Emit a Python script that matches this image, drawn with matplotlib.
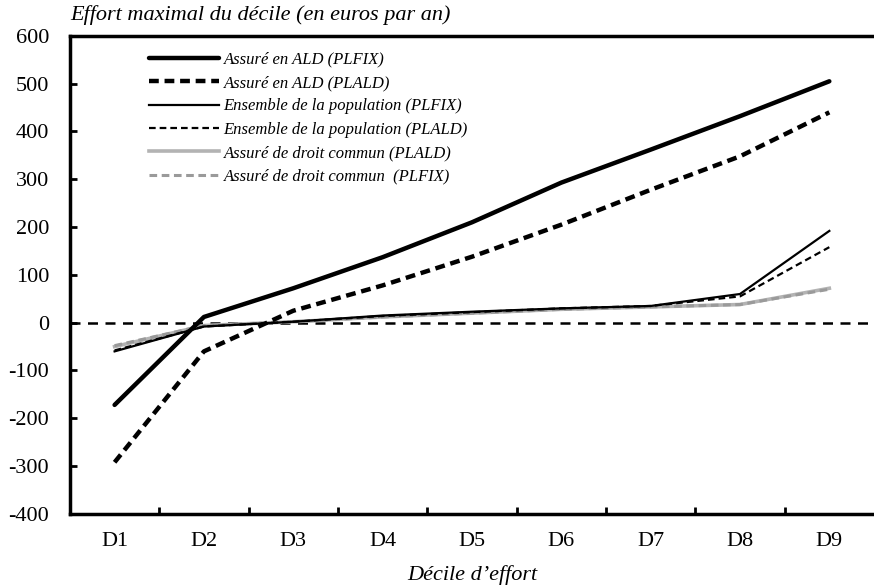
import matplotlib
matplotlib.use("Agg")
import matplotlib.pyplot as plt

deciles = ["D1", "D2", "D3", "D4", "D5", "D6", "D7", "D8", "D9"]
ald_plfix = [-172, 12, 72, 137, 210, 293, 362, 432, 505]
ald_plald = [-292, -60, 25, 78, 138, 205, 278, 348, 440]
ens_plfix = [-60, -8, 2, 15, 23, 30, 35, 60, 192]
ens_plald = [-58, -8, 2, 14, 22, 30, 35, 55, 158]
dc_plald = [-50, -6, 2, 12, 20, 28, 33, 38, 72]
dc_plfix = [-48, -6, 2, 12, 20, 28, 33, 38, 70]

plt.rcParams['font.family'] = ['Liberation Serif', 'DejaVu Serif']
plt.rcParams['axes.unicode_minus'] = False

fig = plt.figure(figsize=(8.74, 5.88), dpi=100)
ax = fig.add_axes([0.080, 0.126, 0.92, 0.813])

x = list(range(len(deciles)))
ax.axhline(0, color='black', lw=1.8, ls=(0, (4, 3)), zorder=1)
ax.plot(x, ald_plfix, color='black', lw=3.2, solid_capstyle='round', label='Assuré en ALD (PLFIX)', zorder=5)
ax.plot(x, ald_plald, color='black', lw=3.2, ls=(0, (2.2, 1.3)), label='Assuré en ALD (PLALD)', zorder=5)
ax.plot(x, ens_plfix, color='black', lw=1.6, label='Ensemble de la population (PLFIX)', zorder=4)
ax.plot(x, ens_plald, color='black', lw=1.6, ls=(0, (3, 1.8)), label='Ensemble de la population (PLALD)', zorder=4)
ax.plot(x, dc_plald, color='#b3b3b3', lw=2.6, label='Assuré de droit commun (PLALD)', zorder=3)
ax.plot(x, dc_plfix, color='#9a9a9a', lw=2.2, ls=(0, (2.5, 1.5)), label='Assuré de droit commun  (PLFIX)', zorder=3)

ax.set_ylim(-400, 600)
ax.set_yticks(range(-400, 601, 100))
ax.set_xlim(-0.5, 8.5)
ax.set_xticks(x)
ax.set_xticklabels(deciles)
ax.set_xticks([i + 0.5 for i in range(8)], minor=True)
ax.tick_params(axis='x', which='major', length=0, pad=13, labelsize=16)
ax.tick_params(axis='x', which='minor', direction='in', length=5, width=2)
ax.tick_params(axis='y', direction='in', length=5, width=2, labelsize=16, pad=15)

for s in ['left', 'bottom', 'top']:
    ax.spines[s].set_linewidth(2.5)
ax.spines['right'].set_visible(False)

ax.annotate("Effort maximal du décile (en euros par an)", xy=(0, 1), xycoords='axes fraction',
            xytext=(0, 11.5), textcoords='offset points',
            fontsize=16, style='italic', ha='left', va='baseline')
ax.set_xlabel("Décile d’effort", fontsize=16, style='italic', labelpad=10)

leg = ax.legend(loc='upper left', bbox_to_anchor=(0.08, 0.998), frameon=False,
                prop={'style': 'italic', 'size': 12}, handlelength=4.2,
                handletextpad=0.25, labelspacing=0.44)

fig.savefig("out.png", dpi=100)
